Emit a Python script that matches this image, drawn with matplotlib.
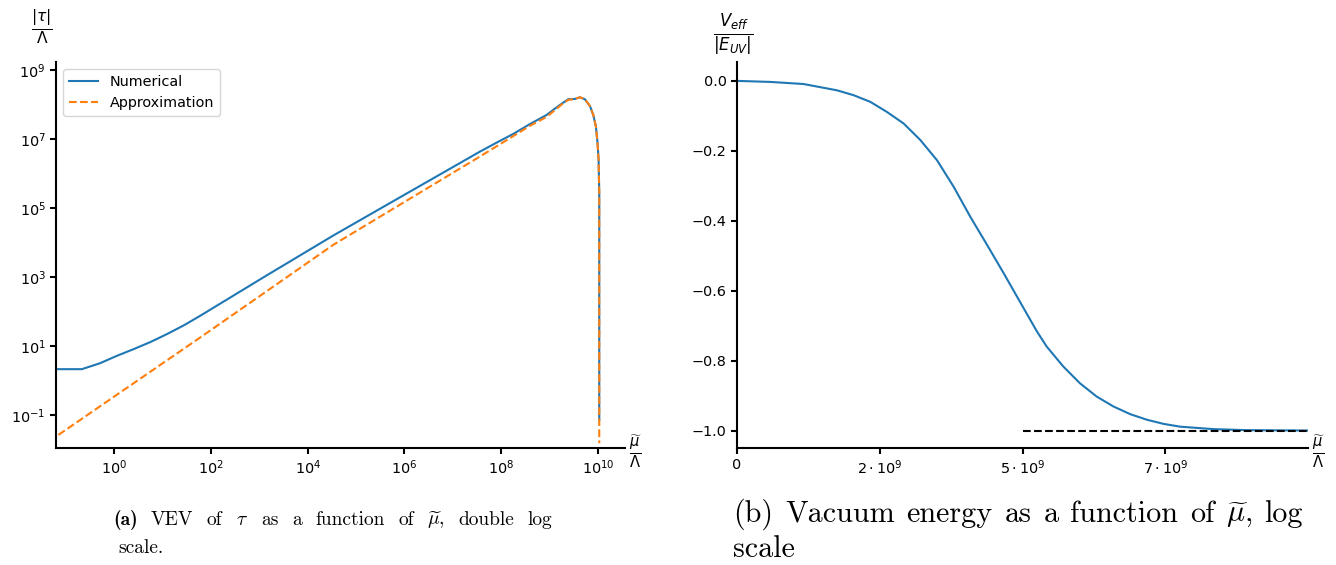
import numpy as np
import matplotlib
matplotlib.use("Agg")
import matplotlib.pyplot as plt
from matplotlib.ticker import NullLocator, FixedLocator

# ---- data -------------------------------------------------------------
# VEV of tau: log10(mu/Lambda) and log10(|tau|/Lambda)
num_logx = [-1.2, -0.667, -0.289, 0.055, 0.4, 0.744, 1.089, 1.433, 1.777,
            3.15, 4.531, 6.05, 7.562, 7.907, 8.25, 8.595, 8.94, 9.215,
            9.387, 9.525, 9.628, 9.731, 9.835, 9.904, 9.959, 9.993, 10.014,
            10.028, 10.028]
num_logy = [0.325, 0.325, 0.498, 0.71, 0.904, 1.107, 1.339, 1.589, 1.87,
            3.04, 4.2, 5.42, 6.632, 6.893, 7.145, 7.43, 7.696, 7.986,
            8.15, 8.159, 8.208, 8.15, 7.957, 7.696, 7.357, 6.875, 6.391,
            5.42, -1.145]
app_logx = [-1.15, 1.777, 4.531, 7.562, 8.595, 8.94, 9.28, 9.387, 9.525,
            9.628, 9.731, 9.835, 9.904, 9.959, 9.993, 10.014, 10.028, 10.028]
app_logy = [-1.58, 1.24, 3.93, 6.49, 7.38, 7.64, 8.03, 8.13, 8.159,
            8.208, 8.15, 7.957, 7.696, 7.357, 6.875, 6.391, 5.42, -1.82]

# Vacuum energy V_eff/|E_UV| versus mu/Lambda
mu_lin = [0.0, 0.584e9, 1.167e9, 1.751e9, 2.043e9, 2.335e9, 2.627e9,
          2.919e9, 3.21e9, 3.503e9, 3.795e9, 4.087e9, 4.379e9, 4.67e9,
          4.963e9, 5.254e9, 5.424e9, 5.715e9, 6.007e9, 6.3e9, 6.59e9,
          6.883e9, 7.175e9, 7.47e9, 7.76e9, 8.345e9, 8.93e9, 1.0e10]
v_eff = [0.0, -0.003, -0.009, -0.027, -0.041, -0.06, -0.089,
         -0.122, -0.169, -0.227, -0.303, -0.389, -0.469, -0.55,
         -0.634, -0.717, -0.76, -0.817, -0.865, -0.903, -0.931,
         -0.953, -0.969, -0.981, -0.989, -0.996, -0.999, -1.0]
ref_x = [5e9, 1e10]
ref_y = [-1.0, -1.0]

lin_ticks = [0, 2.5e9, 5e9, 7.5e9]
lin_ticklabels = ['0', r'$2\cdot10^9$', r'$5\cdot10^9$', r'$7\cdot10^9$']

caption_a = [("(a)", "bold"), ("VEV", None), ("of", None), (r"$\tau$", None),
             ("as", None), ("a", None), ("function", None), ("of", None),
             (r"$\widetilde{\mu}$,", None), ("double", None), ("log", None)]
caption_a2 = "scale."
caption_b = [("(b)", None), ("Vacuum", None), ("energy", None), ("as", None),
             ("a", None), ("function", None), ("of", None),
             (r"$\widetilde{\mu}$,", None), ("log", None)]
caption_b2 = "scale"

# ---- style ------------------------------------------------------------
plt.rcParams.update({
    "font.size": 10.4,
    "axes.linewidth": 1.5,
    "xtick.major.width": 1.5,
    "ytick.major.width": 1.5,
    "xtick.major.size": 4,
    "ytick.major.size": 4,
    "lines.linewidth": 1.5,
})

W, H = 1336, 565
fig = plt.figure(figsize=(W / 100, H / 100), dpi=100)

ax1 = fig.add_axes([56 / W, 1 - 448 / H, 569 / W, 386 / H])
ax2 = fig.add_axes([737 / W, 1 - 448 / H, 571 / W, 386 / H])

for ax in (ax1, ax2):
    ax.spines["top"].set_visible(False)
    ax.spines["right"].set_visible(False)

# ---- left panel -------------------------------------------------------
ax1.plot(10 ** np.array(num_logx), 10 ** np.array(num_logy),
         color="#1f77b4", lw=1.5, label="Numerical")
ax1.plot(10 ** np.array(app_logx), 10 ** np.array(app_logy),
         color="#ff7f0e", ls="--", lw=1.5, label="Approximation")
ax1.set_xscale("log")
ax1.set_yscale("log")
ax1.set_xlim(10 ** -1.2, 10 ** 10.56)
ax1.set_ylim(10 ** -1.96, 10 ** 9.23)
ax1.xaxis.set_major_locator(FixedLocator([10.0 ** k for k in range(0, 11, 2)]))
ax1.yaxis.set_major_locator(FixedLocator([10.0 ** k for k in range(-1, 10, 2)]))
ax1.xaxis.set_minor_locator(NullLocator())
ax1.yaxis.set_minor_locator(NullLocator())
ax1.legend(loc="upper left", fontsize=10.4)

ax1.set_ylabel(r"$\frac{|\tau|}{\Lambda}$", rotation=0, fontsize=16,
               ha="center", va="center")
ax1.yaxis.set_label_coords(-0.025, 1.09)
ax1.set_xlabel(r"$\frac{\widetilde{\mu}}{\Lambda}$", fontsize=15,
               ha="center", va="center")
ax1.xaxis.set_label_coords(1.019, -0.01)

# ---- right panel ------------------------------------------------------
ax2.plot(mu_lin, v_eff, color="#1f77b4", lw=1.5)
ax2.plot(ref_x, ref_y, color="black", ls="--", lw=1.5)
ax2.set_xlim(0, 1e10)
ax2.set_ylim(-1.05, 0.054)
ax2.set_xticks(lin_ticks)
ax2.set_xticklabels(lin_ticklabels)
ax2.set_yticks([0.0, -0.2, -0.4, -0.6, -0.8, -1.0])

ax2.set_ylabel(r"$\frac{V_{eff}}{|E_{UV}|}$", rotation=0, fontsize=17,
               ha="center", va="center")
ax2.yaxis.set_label_coords(-0.007, 1.07)
ax2.set_xlabel(r"$\frac{\widetilde{\mu}}{\Lambda}$", fontsize=15,
               ha="center", va="center")
ax2.xaxis.set_label_coords(1.0175, -0.01)

# ---- captions (justified first line) ----------------------------------
renderer = fig.canvas.get_renderer()


def justified(words, x0, x1, yb, size):
    texts = []
    for w, weight in words:
        fam = "cmb10" if weight == "bold" else "cmr10"
        t = fig.text(0, 1 - yb / H, w, fontsize=size, family=fam,
                     math_fontfamily="cm", va="baseline", ha="left")
        texts.append(t)
    widths = [t.get_window_extent(renderer).width for t in texts]
    gap = ((x1 - x0) - sum(widths)) / (len(texts) - 1)
    pos = x0
    for t, w in zip(texts, widths):
        t.set_x(pos / W)
        pos += w + gap


justified(caption_a, 113, 552, 525, 14.0)
fig.text(118 / W, 1 - 553 / H, caption_a2, fontsize=14.0, family="cmr10",
         va="baseline", ha="left")
justified(caption_b, 733, 1303, 522, 21.7)
fig.text(733 / W, 1 - 557 / H, caption_b2, fontsize=21.7, family="cmr10",
         va="baseline", ha="left")

fig.savefig("out.png", dpi=100)
